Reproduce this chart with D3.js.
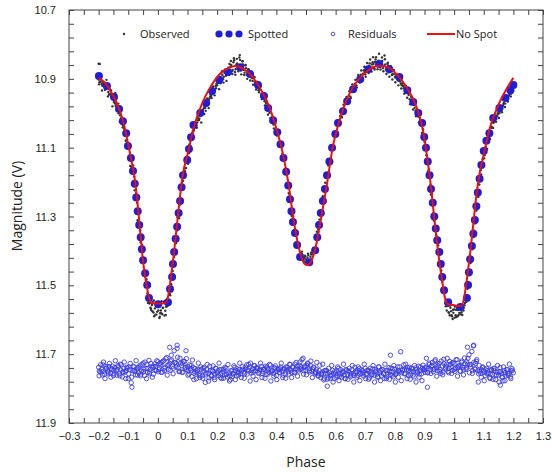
<!DOCTYPE html>
<html lang="en">
<head>
<meta charset="UTF-8">
<title>Light curve</title>
<script src="https://d3js.org/d3.v7.min.js"></script>
<style>
  body { margin: 0; background: #fff; }
  svg { display: block; font-family: "Open Sans", "Liberation Sans", sans-serif; }
  .tick text { font-size: 11px; fill: #222; }
  .tick line { stroke: #444; }
</style>
</head>
<body>
<div id="chart"></div>
<script>
// tick labels
const xTickLabels = [-0.3, -0.2, -0.1, 0, 0.1, 0.2, 0.3, 0.4, 0.5, 0.6, 0.7, 0.8, 0.9, 1, 1.1, 1.2, 1.3];
const yTickLabels = [10.7, 10.9, 11.1, 11.3, 11.5, 11.7, 11.9];

// legend entries
const legendNames = ["Observed", "Spotted", "Residuals", "No Spot"];

// No Spot model (phase, V)
const noSpot = [
  [-0.2,10.898],[-0.18,10.91],[-0.16,10.935],[-0.14,10.968],[-0.12,11.015],[-0.10,11.09],[-0.09,11.135],
  [-0.08,11.18],[-0.07,11.25],[-0.06,11.34],[-0.05,11.43],[-0.04,11.49],[-0.03,11.535],[-0.022,11.552],
  [0.0,11.553],[0.025,11.552],[0.035,11.53],[0.045,11.47],[0.055,11.40],[0.065,11.32],[0.075,11.24],
  [0.085,11.175],[0.10,11.12],[0.12,11.045],[0.15,10.97],[0.18,10.92],[0.21,10.885],[0.24,10.868],
  [0.26,10.863],[0.29,10.872],[0.32,10.895],[0.35,10.935],[0.38,10.99],[0.40,11.045],[0.42,11.11],
  [0.44,11.20],[0.46,11.32],[0.48,11.405],[0.495,11.437],[0.505,11.441],[0.52,11.425],[0.535,11.38],
  [0.55,11.31],[0.57,11.21],[0.59,11.10],[0.61,11.03],[0.64,10.955],[0.67,10.91],[0.70,10.882],
  [0.73,10.865],[0.75,10.862],[0.78,10.868],[0.81,10.89],[0.84,10.925],[0.87,10.975],[0.89,11.03],
  [0.90,11.075],[0.91,11.135],[0.92,11.20],[0.93,11.28],[0.94,11.36],[0.95,11.43],[0.96,11.49],
  [0.97,11.54],[0.978,11.555],[1.0,11.558],[1.025,11.56],[1.035,11.53],[1.045,11.47],[1.055,11.40],
  [1.065,11.32],[1.075,11.24],[1.085,11.18],[1.10,11.12],[1.12,11.045],[1.15,10.975],[1.18,10.925],[1.20,10.897]
];

// Spotted model points
const spotted = [
  [-0.199,10.892],[-0.172,10.921],[-0.148,10.953],[-0.131,10.988],[-0.118,11.023],[-0.107,11.058],
  [-0.101,11.095],[-0.091,11.130],[-0.084,11.168],[-0.078,11.205],[-0.073,11.245],[-0.068,11.285],
  [-0.063,11.325],[-0.058,11.36],[-0.054,11.395],[-0.050,11.427],[-0.043,11.465],[-0.036,11.499],
  [-0.030,11.537],[0.001,11.555],[0.034,11.549],[0.041,11.511],[0.048,11.476],[0.051,11.438],
  [0.055,11.403],[0.060,11.365],[0.065,11.33],[0.070,11.29],[0.075,11.255],[0.080,11.215],[0.085,11.180],
  [0.099,11.136],[0.105,11.104],[0.112,11.07],[0.120,11.034],[0.143,10.999],[0.163,10.970],[0.183,10.935],
  [0.207,10.903],[0.237,10.880],[0.278,10.866],[0.311,10.886],[0.338,10.918],[0.358,10.950],[0.372,10.985],
  [0.389,11.020],[0.403,11.055],[0.414,11.09],[0.424,11.13],[0.433,11.17],[0.440,11.21],[0.446,11.25],
  [0.451,11.285],[0.456,11.316],[0.463,11.348],[0.470,11.383],[0.480,11.418],[0.511,11.433],[0.531,11.398],
  [0.538,11.360],[0.544,11.325],[0.550,11.29],[0.557,11.255],[0.564,11.22],[0.571,11.18],[0.579,11.14],
  [0.588,11.10],[0.599,11.06],[0.608,11.028],[0.625,10.994],[0.639,10.965],[0.659,10.930],[0.683,10.901],
  [0.710,10.872],[0.747,10.857],[0.781,10.872],[0.815,10.895],[0.842,10.933],[0.862,10.967],[0.879,10.999],
  [0.892,11.028],[0.899,11.069],[0.905,11.10],[0.911,11.14],[0.917,11.18],[0.922,11.22],[0.928,11.26],
  [0.933,11.30],[0.938,11.335],[0.943,11.369],[0.950,11.403],[0.955,11.438],[0.960,11.476],[0.966,11.514],
  [0.980,11.549],[1.021,11.563],[1.043,11.537],[1.047,11.499],[1.050,11.462],[1.054,11.424],[1.060,11.386],
  [1.065,11.35],[1.070,11.31],[1.075,11.27],[1.080,11.23],[1.086,11.19],[1.092,11.15],[1.100,11.11],
  [1.109,11.08],[1.119,11.058],[1.132,11.014],[1.153,10.985],[1.173,10.956],[1.190,10.933],[1.200,10.918]
];

// Observed V magnitudes (two nights)
const observedA = [
  [-0.2,10.902],[-0.2,10.856],[-0.196,10.857],[-0.195,10.902],[-0.19,10.915],[-0.185,10.911],[-0.18,10.926],
  [-0.175,10.925],[-0.17,10.926],[-0.165,10.946],[-0.16,10.944],[-0.155,10.955],[-0.15,10.952],[-0.145,10.971],
  [-0.14,10.973],[-0.135,10.989],[-0.13,10.993],[-0.125,11.016],[-0.12,11.023],[-0.115,11.043],[-0.11,11.05],
  [-0.105,11.077],[-0.1,11.094],[-0.095,11.122],[-0.09,11.131],[-0.085,11.17],[-0.08,11.184],[-0.075,11.24],
  [-0.07,11.26],[-0.065,11.315],[-0.06,11.34],[-0.055,11.396],[-0.05,11.419],[-0.045,11.466],[-0.04,11.486],
  [-0.035,11.523],[-0.03,11.547],[-0.025,11.565],[-0.02,11.557],[-0.015,11.579],[-0.01,11.567],[-0.005,11.585],
  [0,11.563],[0.005,11.595],[0.01,11.573],[0.015,11.584],[0.02,11.548],[0.025,11.574],[0.03,11.556],
  [0.035,11.555],[0.04,11.525],[0.045,11.497],[0.05,11.458],[0.055,11.418],[0.06,11.37],[0.065,11.34],
  [0.07,11.296],[0.075,11.265],[0.08,11.219],[0.085,11.196],[0.09,11.166],[0.095,11.159],[0.1,11.136],
  [0.105,11.116],[0.11,11.095],[0.115,11.064],[0.12,11.05],[0.125,11.035],[0.13,11.035],[0.135,11.014],
  [0.14,11.016],[0.145,11.003],[0.15,11.003],[0.155,10.985],[0.16,10.985],[0.165,10.967],[0.17,10.972],
  [0.175,10.955],[0.18,10.95],[0.185,10.93],[0.19,10.937],[0.195,10.921],[0.2,10.919],[0.205,10.902],
  [0.21,10.91],[0.215,10.897],[0.22,10.901],[0.225,10.882],[0.23,10.891],[0.235,10.874],[0.24,10.888],
  [0.245,10.865],[0.25,10.878],[0.255,10.852],[0.26,10.88],[0.265,10.859],[0.27,10.871],[0.275,10.838],
  [0.28,10.876],[0.285,10.849],[0.29,10.874],[0.295,10.861],[0.3,10.888],[0.305,10.872],[0.31,10.892],
  [0.315,10.882],[0.32,10.906],[0.325,10.897],[0.33,10.915],[0.335,10.908],[0.34,10.933],[0.345,10.93],
  [0.35,10.944],[0.355,10.941],[0.36,10.965],[0.365,10.97],[0.37,10.988],[0.375,10.988],[0.38,11.014],
  [0.385,11.016],[0.39,11.033],[0.395,11.031],[0.4,11.053],[0.405,11.062],[0.41,11.084],[0.415,11.088],
  [0.42,11.118],[0.425,11.127],[0.43,11.161],[0.435,11.174],[0.44,11.215],[0.445,11.235],[0.45,11.284],
  [0.455,11.3],[0.46,11.339],[0.465,11.35],[0.47,11.381],[0.475,11.388],[0.48,11.412],[0.485,11.408],
  [0.49,11.426],[0.495,11.421],[0.5,11.433],[0.505,11.419],[0.51,11.437],[0.515,11.417],[0.52,11.423],
  [0.525,11.402],[0.53,11.404],[0.535,11.364],[0.54,11.345],[0.545,11.309],[0.55,11.296],[0.555,11.257],
  [0.56,11.244],[0.565,11.202],[0.57,11.185],[0.575,11.151],[0.58,11.141],[0.585,11.104],[0.59,11.094],
  [0.595,11.067],[0.6,11.064],[0.605,11.036],[0.61,11.033],[0.615,11.008],[0.62,11.009],[0.625,10.986],
  [0.63,10.989],[0.635,10.966],[0.64,10.969],[0.645,10.949],[0.65,10.952],[0.655,10.929],[0.66,10.934],
  [0.665,10.914],[0.67,10.919],[0.675,10.901],[0.68,10.909],[0.685,10.888],[0.69,10.897],[0.695,10.875],
  [0.7,10.887],[0.705,10.867],[0.71,10.878],[0.715,10.855],[0.72,10.87],[0.725,10.852],[0.73,10.869],
  [0.735,10.844],[0.74,10.863],[0.745,10.847],[0.75,10.865],[0.755,10.852],[0.76,10.869],[0.765,10.832],
  [0.77,10.873],[0.775,10.856],[0.78,10.881],[0.785,10.868],[0.79,10.889],[0.795,10.877],[0.8,10.895],
  [0.805,10.89],[0.81,10.904],[0.815,10.894],[0.82,10.914],[0.825,10.912],[0.83,10.927],[0.835,10.92],
  [0.84,10.939],[0.845,10.941],[0.85,10.959],[0.855,10.952],[0.86,10.973],[0.865,10.974],[0.87,10.992],
  [0.875,10.988],[0.88,11.01],[0.885,11.016],[0.89,11.037],[0.895,11.047],[0.9,11.083],[0.905,11.101],
  [0.91,11.144],[0.915,11.163],[0.92,11.208],[0.925,11.234],[0.93,11.29],[0.935,11.309],[0.94,11.355],
  [0.945,11.366],[0.95,11.412],[0.955,11.442],[0.96,11.49],[0.965,11.516],[0.97,11.553],[0.975,11.573],
  [0.98,11.559],[0.985,11.587],[0.99,11.575],[0.995,11.598],[1,11.57],[1.005,11.587],[1.01,11.566],
  [1.015,11.586],[1.02,11.566],[1.025,11.578],[1.03,11.559],[1.035,11.558],[1.04,11.534],[1.045,11.51],
  [1.05,11.464],[1.055,11.435],[1.06,11.391],[1.065,11.36],[1.07,11.314],[1.075,11.283],[1.08,11.236],
  [1.085,11.207],[1.09,11.165],[1.095,11.149],[1.1,11.116],[1.105,11.109],[1.11,11.086],[1.115,11.084],
  [1.12,11.062],[1.125,11.053],[1.13,11.024],[1.135,11.025],[1.14,11.008],[1.145,11.009],[1.15,10.993],
  [1.155,10.994],[1.16,10.979],[1.165,10.978],[1.17,10.962],[1.175,10.963],[1.18,10.949],[1.185,10.949],
  [1.19,10.935],[1.195,10.933],[1.2,10.922],
  [-0.1975,10.91],[-0.1925,10.908],[-0.1875,10.92],[-0.1825,10.918],[-0.1775,10.931],[-0.1725,10.918],
  [-0.1675,10.938],[-0.1625,10.93],[-0.1575,10.951],[-0.1525,10.958],[-0.1475,10.962],[-0.1425,10.978],
  [-0.1375,10.982],[-0.1325,11.0],[-0.1275,11.006],[-0.1225,11.028],[-0.1175,11.036],[-0.1125,11.048],
  [-0.0275,11.55],[-0.0225,11.572],[-0.0175,11.548],[-0.0125,11.59],[-0.0075,11.556],[-0.0025,11.577],
  [0.0025,11.56],[0.0075,11.581],[0.0125,11.546],[0.0175,11.565],[0.0225,11.588],[0.0275,11.562],[0.0325,11.538],
  [0.1025,11.128],[0.1075,11.098],[0.1125,11.078],[0.1175,11.06],[0.1225,11.045],[0.1275,11.028],[0.1325,11.027],
  [0.1375,11.02],[0.1425,11.008],[0.1475,10.996],[0.1525,10.99],[0.1575,10.98],[0.1625,10.976],[0.1675,10.962],
  [0.1725,10.96],[0.1775,10.946],[0.1825,10.944],[0.1875,10.929],[0.1925,10.93],[0.1975,10.915],
  [0.2025,10.912],[0.2075,10.895],[0.2125,10.903],[0.2175,10.888],[0.2225,10.894],[0.2275,10.877],[0.2325,10.884],
  [0.2375,10.868],[0.2425,10.881],[0.2475,10.86],[0.2525,10.874],[0.2575,10.846],[0.2625,10.872],[0.2675,10.855],
  [0.2725,10.864],[0.2775,10.845],[0.2825,10.866],[0.2875,10.858],[0.2925,10.882],[0.2975,10.869],[0.3025,10.878],
  [0.3075,10.885],[0.3125,10.879],[0.3175,10.898],[0.3225,10.893],[0.3275,10.91],
  [0.4825,11.42],[0.4875,11.41],[0.4925,11.43],[0.4975,11.416],[0.5025,11.428],[0.5075,11.412],[0.5125,11.426],[0.5175,11.41],
  [0.6825,10.898],[0.6875,10.892],[0.6925,10.885],[0.6975,10.88],[0.7025,10.874],[0.7075,10.871],[0.7125,10.862],
  [0.7175,10.865],[0.7225,10.858],[0.7275,10.857],[0.7325,10.851],[0.7375,10.858],[0.7425,10.852],[0.7475,10.86],
  [0.7525,10.858],[0.7575,10.848],[0.7625,10.862],[0.7675,10.858],[0.7725,10.866],[0.7775,10.862],[0.7825,10.878],
  [0.7875,10.872],[0.7925,10.885],[0.7975,10.887],[0.8025,10.896],[0.8075,10.9],[0.8125,10.905],[0.8175,10.908],
  [0.8225,10.918],[0.8275,10.921],
  [0.9775,11.56],[0.9825,11.58],[0.9875,11.565],[0.9925,11.59],[0.9975,11.58],[1.0025,11.562],[1.0075,11.592],
  [1.0125,11.572],[1.0175,11.58],[1.0225,11.57],[1.0275,11.586],[1.0325,11.565],
  [1.1025,11.122],[1.1075,11.1],[1.1125,11.078],[1.1175,11.07],[1.1225,11.06],[1.1275,11.04],[1.1325,11.028],
  [1.1375,11.015],[1.1425,11.016],[1.1475,11.0],[1.1525,11.0],[1.1575,10.985],[1.1625,10.986],[1.1675,10.97],
  [1.1725,10.972],[1.1775,10.955],[1.1825,10.958],[1.1875,10.942],[1.1925,10.943],[1.1975,10.928]
];

const observedB = [
  [-0.1985,10.916],[-0.1935,10.889],[-0.1885,10.934],[-0.1835,10.915],[-0.1785,10.932],[-0.1735,10.903],
  [-0.1685,10.951],[-0.1635,10.944],[-0.1585,10.933],[-0.1535,10.98],[-0.1485,10.967],[-0.1435,10.941],
  [-0.1385,10.993],[-0.1335,10.972],[-0.1285,11.024],[-0.1235,11.014],[-0.1185,11.041],[-0.1135,11.022],
  [-0.1085,11.08],[-0.1035,11.086],[-0.0985,11.091],[-0.0935,11.153],[-0.0885,11.157],[-0.0835,11.152],
  [-0.0785,11.224],[-0.0735,11.232],[-0.0685,11.311],[-0.0635,11.324],[-0.0585,11.375],[-0.0535,11.382],
  [-0.0485,11.461],[-0.0435,11.474],[-0.0385,11.482],[-0.0335,11.551],[-0.0285,11.553],[-0.0235,11.568],
  [-0.0185,11.575],[-0.0135,11.544],[-0.0085,11.585],[-0.0035,11.561],[0.0015,11.573],[0.0065,11.591],
  [0.0115,11.581],[0.0165,11.566],[0.0215,11.547],[0.0265,11.586],[0.0315,11.561],[0.0365,11.518],
  [0.0415,11.529],[0.0465,11.466],[0.0515,11.468],[0.0565,11.402],[0.0615,11.377],[0.0665,11.302],
  [0.0715,11.305],[0.0765,11.253],[0.0815,11.2],[0.0865,11.212],[0.0915,11.169],[0.0965,11.126],
  [0.1015,11.147],[0.1065,11.091],[0.1115,11.103],[0.1165,11.056],[0.1215,11.05],[0.1265,11.029],
  [0.1315,11.042],[0.1365,11.02],[0.1415,10.997],[0.1465,11.027],[0.1515,11.0],[0.1565,11.002],
  [0.1615,10.993],[0.1665,10.957],[0.1715,10.985],[0.1765,10.952],[0.1815,10.956],[0.1865,10.922],
  [0.1915,10.948],[0.1965,10.927],[0.2015,10.903],[0.2065,10.93],[0.2115,10.913],[0.2165,10.878],
  [0.2215,10.911],[0.2265,10.873],[0.2315,10.906],[0.2365,10.885],[0.2415,10.857],[0.2465,10.848],
  [0.2515,10.886],[0.2565,10.84],[0.2615,10.888],[0.2665,10.842],[0.2715,10.878],[0.2765,10.831],
  [0.2815,10.887],[0.2865,10.849],[0.2915,10.889],[0.2965,10.86],[0.3015,10.9],[0.3065,10.873],
  [0.3115,10.905],[0.3165,10.885],[0.3215,10.917],[0.3265,10.895],[0.3315,10.931],[0.3365,10.92],
  [0.3415,10.939],[0.3465,10.922],[0.3515,10.959],[0.3565,10.954],[0.3615,10.977],[0.3665,10.964],
  [0.3715,11.004],[0.3765,10.999],[0.3815,11.026],[0.3865,11.01],[0.3915,11.044],[0.3965,11.029],
  [0.4015,11.065],[0.4065,11.058],[0.4115,11.097],[0.4165,11.087],[0.4215,11.131],[0.4265,11.127],
  [0.4315,11.177],[0.4365,11.176],[0.4415,11.232],[0.4465,11.241],[0.4515,11.298],[0.4565,11.3],
  [0.4615,11.348],[0.4665,11.349],[0.4715,11.384],[0.4765,11.385],[0.4815,11.412],[0.4865,11.402],
  [0.4915,11.425],[0.4965,11.414],[0.5015,11.425],[0.5065,11.408],[0.5115,11.428],[0.5165,11.405],
  [0.5215,11.41],[0.5265,11.393],[0.5315,11.394],[0.5365,11.344],[0.5415,11.338],[0.5465,11.291],
  [0.5515,11.293],[0.5565,11.241],[0.5615,11.243],[0.5665,11.186],[0.5715,11.183],[0.5765,11.134],
  [0.5815,11.14],[0.5865,11.093],[0.5915,11.099],[0.5965,11.054],[0.6015,11.064],[0.6065,11.02],
  [0.6115,11.032],[0.6165,10.995],[0.6215,11.012],[0.6265,10.975],[0.6315,10.992],[0.6365,10.953],
  [0.6415,10.97],[0.6465,10.936],[0.6515,10.956],[0.6565,10.916],[0.6615,10.936],[0.6665,10.903],
  [0.6715,10.925],[0.6765,10.889],[0.6815,10.911],[0.6865,10.876],[0.6915,10.903],[0.6965,10.865],
  [0.7015,10.894],[0.7065,10.854],[0.7115,10.883],[0.7165,10.844],[0.7215,10.879],[0.7265,10.837],
  [0.7315,10.873],[0.7365,10.837],[0.7415,10.872],[0.7465,10.827],[0.7515,10.873],[0.7565,10.838],
  [0.7615,10.878],[0.7665,10.843],[0.7715,10.886],[0.7765,10.853],[0.7815,10.894],[0.7865,10.863],
  [0.7915,10.902],[0.7965,10.874],[0.8015,10.91],[0.8065,10.895],[0.8115,10.919],[0.8165,10.893],
  [0.8215,10.928],[0.8265,10.919],[0.8315,10.943],[0.8365,10.92],[0.8415,10.955],[0.8465,10.947],
  [0.8515,10.974],[0.8565,10.953],[0.8615,10.989],[0.8665,10.984],[0.8715,11.009],[0.8765,10.991],
  [0.8815,11.026],[0.8865,11.026],[0.8915,11.057],[0.8965,11.062],[0.9015,11.106],[0.9065,11.122],
  [0.9115,11.169],[0.9165,11.181],[0.9215,11.236],[0.9265,11.258],[0.9315,11.312],[0.9365,11.331],
  [0.9415,11.377],[0.9465,11.384],[0.9515,11.429],[0.9565,11.457],[0.9615,11.508],[0.9665,11.521],
  [0.9715,11.561],[0.9765,11.557],[0.9815,11.578],[0.9865,11.559],[0.9915,11.587],[0.9965,11.571],
  [1.0015,11.594],[1.0065,11.571],[1.0115,11.59],[1.0165,11.569],[1.0215,11.584],[1.0265,11.569],
  [1.0315,11.573],[1.0365,11.551],[1.0415,11.548],[1.0465,11.496],[1.0515,11.471],[1.0565,11.418],
  [1.0615,11.395],[1.0665,11.341],[1.0715,11.32],[1.0765,11.264],[1.0815,11.243],[1.0865,11.193],
  [1.0915,11.178],[1.0965,11.133],[1.1015,11.131],[1.1065,11.098],[1.1115,11.104],[1.1165,11.069],
  [1.1215,11.075],[1.1265,11.042],[1.1315,11.043],[1.1365,11.013],[1.1415,11.025],[1.1465,11.004],
  [1.1515,11.014],[1.1565,10.984],[1.1615,10.997],[1.1665,10.973],[1.1715,10.982],[1.1765,10.957],
  [1.1815,10.966],[1.1865,10.944],[1.1915,10.951],[1.1965,10.931]
];

// Residuals (offset for display)
const residualsA = [
  [-0.2,11.738],[-0.195,11.752],[-0.19,11.745],[-0.185,11.731],[-0.18,11.758],[-0.175,11.742],[-0.17,11.749],
  [-0.165,11.736],[-0.16,11.755],[-0.155,11.744],[-0.15,11.762],[-0.145,11.739],[-0.14,11.748],[-0.135,11.733],
  [-0.13,11.757],[-0.125,11.746],[-0.12,11.766],[-0.115,11.741],[-0.11,11.752],[-0.105,11.738],[-0.1,11.771],
  [-0.095,11.745],[-0.09,11.783],[-0.085,11.748],[-0.08,11.737],[-0.075,11.76],[-0.07,11.743],[-0.065,11.754],
  [-0.06,11.732],[-0.055,11.749],[-0.05,11.726],[-0.045,11.762],[-0.04,11.741],[-0.035,11.753],[-0.03,11.718],
  [-0.025,11.744],[-0.02,11.735],[-0.015,11.758],[-0.01,11.728],[-0.005,11.747],[0,11.722],[0.005,11.74],
  [0.01,11.731],[0.015,11.752],[0.02,11.719],[0.025,11.738],[0.03,11.71],[0.035,11.744],[0.04,11.727],
  [0.045,11.703],[0.05,11.735],[0.055,11.69],[0.06,11.724],[0.065,11.683],[0.07,11.741],[0.075,11.712],
  [0.08,11.733],[0.085,11.752],[0.09,11.721],[0.095,11.745],[0.1,11.736],[0.105,11.758],[0.11,11.742],
  [0.115,11.765],[0.12,11.739],[0.125,11.751],[0.13,11.771],[0.135,11.744],[0.14,11.758],[0.145,11.737],
  [0.15,11.763],[0.155,11.749],[0.16,11.782],[0.165,11.745],[0.17,11.756],[0.175,11.735],[0.18,11.762],
  [0.185,11.75],[0.19,11.768],[0.195,11.741],[0.2,11.755],[0.205,11.762],[0.21,11.745],[0.215,11.771],
  [0.22,11.752],[0.225,11.76],[0.23,11.741],[0.235,11.766],[0.24,11.754],[0.245,11.774],[0.25,11.749],
  [0.255,11.758],[0.26,11.738],[0.265,11.763],[0.27,11.751],[0.275,11.745],[0.28,11.757],[0.285,11.736],
  [0.29,11.752],[0.295,11.744],[0.3,11.731],[0.305,11.749],[0.31,11.738],[0.315,11.755],[0.32,11.742],
  [0.325,11.733],[0.33,11.748],[0.335,11.739],[0.34,11.756],[0.345,11.744],[0.35,11.736],[0.355,11.751],
  [0.36,11.743],[0.365,11.759],[0.37,11.74],[0.375,11.753],[0.38,11.732],[0.385,11.748],[0.39,11.756],
  [0.395,11.741],[0.4,11.762],[0.405,11.745],[0.41,11.753],[0.415,11.738],[0.42,11.749],[0.425,11.742],
  [0.43,11.758],[0.435,11.744],[0.44,11.751],[0.445,11.729],[0.45,11.746],[0.455,11.737],[0.46,11.752],
  [0.465,11.743],[0.47,11.735],[0.475,11.749],[0.48,11.723],[0.485,11.741],[0.49,11.712],[0.495,11.738],
  [0.5,11.747],[0.505,11.726],[0.51,11.742],[0.515,11.733],[0.52,11.75],[0.525,11.739],[0.53,11.757],
  [0.535,11.745],[0.54,11.762],[0.545,11.748],[0.55,11.768],[0.555,11.752],[0.56,11.775],[0.565,11.756],
  [0.57,11.748],[0.575,11.769],[0.58,11.754],[0.585,11.762],[0.59,11.747],[0.595,11.771],[0.6,11.755],
  [0.605,11.763],[0.61,11.741],[0.615,11.758],[0.62,11.767],[0.625,11.75],[0.63,11.761],[0.635,11.744],
  [0.64,11.759],[0.645,11.752],[0.65,11.766],[0.655,11.745],[0.66,11.757],[0.665,11.738],[0.67,11.753],
  [0.675,11.762],[0.68,11.742],[0.685,11.755],[0.69,11.748],[0.695,11.764],[0.7,11.741],[0.705,11.756],
  [0.71,11.747],[0.715,11.769],[0.72,11.752],[0.725,11.743],[0.73,11.761],[0.735,11.749],[0.74,11.758],
  [0.745,11.737],[0.75,11.754],[0.755,11.762],[0.76,11.745],[0.765,11.771],[0.77,11.748],[0.775,11.757],
  [0.78,11.739],[0.785,11.76],[0.79,11.751],[0.795,11.766],[0.8,11.744],[0.805,11.755],[0.81,11.737],
  [0.815,11.752],[0.82,11.693],[0.825,11.748],[0.83,11.731],[0.835,11.757],[0.84,11.745],[0.845,11.762],
  [0.85,11.738],[0.855,11.751],[0.86,11.743],[0.865,11.766],[0.87,11.74],[0.875,11.754],[0.88,11.735],
  [0.885,11.749],[0.89,11.757],[0.895,11.732],[0.9,11.746],[0.905,11.738],[0.91,11.754],[0.915,11.726],
  [0.92,11.744],[0.925,11.733],[0.93,11.751],[0.935,11.72],[0.94,11.739],[0.945,11.748],[0.95,11.727],
  [0.955,11.756],[0.96,11.734],[0.965,11.715],[0.97,11.743],[0.975,11.729],[0.98,11.75],[0.985,11.721],
  [0.99,11.738],[0.995,11.747],[1,11.728],[1.005,11.741],[1.01,11.716],[1.015,11.735],[1.02,11.749],
  [1.025,11.724],[1.03,11.738],[1.035,11.711],[1.04,11.744],[1.045,11.729],[1.05,11.702],[1.055,11.737],
  [1.06,11.692],[1.065,11.676],[1.07,11.742],[1.075,11.721],[1.08,11.748],[1.085,11.733],[1.09,11.756],
  [1.095,11.739],[1.1,11.747],[1.105,11.762],[1.11,11.741],[1.115,11.755],[1.12,11.768],[1.125,11.744],
  [1.13,11.759],[1.135,11.748],[1.14,11.774],[1.145,11.752],[1.15,11.761],[1.155,11.739],[1.16,11.757],
  [1.165,11.778],[1.17,11.748],[1.175,11.763],[1.18,11.745],[1.185,11.756],[1.19,11.766],[1.195,11.742],[1.2,11.754],
  [-0.1975,11.749],[-0.1875,11.76],[-0.1775,11.735],[-0.1675,11.752],[-0.1575,11.741],[-0.1475,11.757],
  [-0.1375,11.744],[-0.1275,11.729],[-0.1175,11.753],[-0.1075,11.748],[-0.0975,11.737],[-0.0875,11.796],
  [-0.0775,11.751],[-0.0675,11.739],[-0.0575,11.758],[-0.0475,11.744],[-0.0375,11.73],[-0.0275,11.752],
  [-0.0175,11.739],[-0.0075,11.736],[0.0025,11.745],[0.0125,11.724],[0.0225,11.748],[0.0325,11.733],
  [0.0425,11.72],[0.0525,11.741],[0.0625,11.728],[0.0725,11.749],[0.0825,11.726],[0.0925,11.738],
  [0.1025,11.748],[0.1125,11.733],[0.1225,11.756],[0.1325,11.748],[0.1425,11.762],[0.1525,11.741],
  [0.1625,11.754],[0.1725,11.769],[0.1825,11.747],[0.1925,11.758],[0.2025,11.748],[0.2125,11.758],
  [0.2225,11.744],[0.2325,11.759],[0.2425,11.764],[0.2525,11.756],[0.2625,11.748],[0.2725,11.761],
  [0.2825,11.749],[0.2925,11.757],[0.3025,11.745],[0.3125,11.726],[0.3225,11.752],[0.3325,11.74],
  [0.3425,11.748],[0.3525,11.757],[0.3625,11.735],[0.3725,11.745],[0.3825,11.752],[0.3925,11.739],
  [0.4025,11.75],[0.4125,11.743],[0.4225,11.761],[0.4325,11.737],[0.4425,11.744],[0.4525,11.753],
  [0.4625,11.729],[0.4725,11.744],[0.4825,11.736],[0.4925,11.748],[0.5025,11.733],[0.5125,11.752],
  [0.5225,11.744],[0.5325,11.751],[0.5425,11.756],[0.5525,11.759],[0.5625,11.748],[0.5725,11.757],
  [0.5825,11.77],[0.5925,11.756],[0.6025,11.748],[0.6125,11.765],[0.6225,11.753],[0.6325,11.771],
  [0.6425,11.748],[0.6525,11.757],[0.6625,11.762],[0.6725,11.746],[0.6825,11.758],[0.6925,11.752],
  [0.7025,11.76],[0.7125,11.75],[0.7225,11.758],[0.7325,11.744],[0.7425,11.765],[0.7525,11.748],
  [0.7625,11.756],[0.7725,11.765],[0.7825,11.751],[0.7925,11.742],[0.8025,11.759],[0.8125,11.748],
  [0.8225,11.754],[0.8325,11.745],[0.8425,11.739],[0.8525,11.758],[0.8625,11.75],[0.8725,11.746],
  [0.8825,11.758],[0.8925,11.742],[0.9025,11.753],[0.9125,11.741],[0.9225,11.737],[0.9325,11.744],
  [0.9425,11.731],[0.9525,11.745],[0.9625,11.752],[0.9725,11.735],[0.9825,11.742],[0.9925,11.726],
  [1.0025,11.75],[1.0125,11.739],[1.0225,11.734],[1.0325,11.745],[1.0425,11.722],[1.0525,11.731],
  [1.0625,11.748],[1.0725,11.727],[1.0825,11.757],[1.0925,11.745],[1.1025,11.753],[1.1125,11.748],
  [1.1225,11.757],[1.1325,11.742],[1.1425,11.76],[1.1525,11.751],[1.1625,11.766],[1.1725,11.754],
  [1.1825,11.762],[1.1925,11.749],
  [0.04,11.68],[0.065,11.674],[0.095,11.69],[0.785,11.703],[1.045,11.68],[1.066,11.674],
  [0.572,11.793],[0.91,11.796],[1.156,11.79]
];

const residualsB = [
  [-0.1985,11.763],[-0.1935,11.731],[-0.1885,11.751],[-0.1835,11.723],[-0.1785,11.771],[-0.1735,11.741],
  [-0.1685,11.757],[-0.1635,11.727],[-0.1585,11.767],[-0.1535,11.735],[-0.1485,11.747],[-0.1435,11.719],
  [-0.1385,11.761],[-0.1335,11.737],[-0.1285,11.763],[-0.1235,11.731],[-0.1185,11.751],[-0.1135,11.723],
  [-0.1085,11.771],[-0.1035,11.741],[-0.0985,11.757],[-0.0935,11.727],[-0.0885,11.767],[-0.0835,11.735],
  [-0.0785,11.747],[-0.0735,11.719],[-0.0685,11.761],[-0.0635,11.737],[-0.0585,11.763],[-0.0535,11.731],
  [-0.0485,11.751],[-0.0435,11.723],[-0.0385,11.771],[-0.0335,11.741],[-0.0285,11.757],[-0.0235,11.727],
  [-0.0185,11.767],[-0.0135,11.735],[-0.0085,11.747],[-0.0035,11.719],[0.0015,11.751],[0.0065,11.727],
  [0.0115,11.753],[0.0165,11.721],[0.0215,11.741],[0.0265,11.713],[0.0315,11.761],[0.0365,11.731],
  [0.0415,11.747],[0.0465,11.717],[0.0515,11.757],[0.0565,11.725],[0.0615,11.737],[0.0665,11.709],
  [0.0715,11.751],[0.0765,11.727],[0.0815,11.753],[0.0865,11.721],[0.0915,11.741],[0.0965,11.713],
  [0.1015,11.761],[0.1065,11.731],[0.1115,11.747],[0.1165,11.717],[0.1215,11.774],[0.1265,11.742],
  [0.1315,11.754],[0.1365,11.726],[0.1415,11.768],[0.1465,11.744],[0.1515,11.77],[0.1565,11.738],
  [0.1615,11.758],[0.1665,11.73],[0.1715,11.778],[0.1765,11.748],[0.1815,11.764],[0.1865,11.734],
  [0.1915,11.774],[0.1965,11.742],[0.2015,11.754],[0.2065,11.726],[0.2115,11.768],[0.2165,11.744],
  [0.2215,11.77],[0.2265,11.738],[0.2315,11.758],[0.2365,11.73],[0.2415,11.778],[0.2465,11.748],
  [0.2515,11.764],[0.2565,11.734],[0.2615,11.774],[0.2665,11.742],[0.2715,11.754],[0.2765,11.726],
  [0.2815,11.768],[0.2865,11.744],[0.2915,11.77],[0.2965,11.738],[0.3015,11.758],[0.3065,11.73],
  [0.3115,11.778],[0.3165,11.748],[0.3215,11.764],[0.3265,11.734],[0.3315,11.774],[0.3365,11.742],
  [0.3415,11.754],[0.3465,11.726],[0.3515,11.768],[0.3565,11.744],[0.3615,11.77],[0.3665,11.738],
  [0.3715,11.758],[0.3765,11.73],[0.3815,11.778],[0.3865,11.748],[0.3915,11.764],[0.3965,11.734],
  [0.4015,11.774],[0.4065,11.742],[0.4115,11.754],[0.4165,11.726],[0.4215,11.768],[0.4265,11.744],
  [0.4315,11.77],[0.4365,11.738],[0.4415,11.758],[0.4465,11.73],[0.4515,11.768],[0.4565,11.738],
  [0.4615,11.754],[0.4665,11.724],[0.4715,11.764],[0.4765,11.732],[0.4815,11.744],[0.4865,11.716],
  [0.4915,11.758],[0.4965,11.734],[0.5015,11.76],[0.5065,11.728],[0.5115,11.748],[0.5165,11.72],
  [0.5215,11.768],[0.5265,11.738],[0.5315,11.754],[0.5365,11.724],[0.5415,11.764],[0.5465,11.732],
  [0.5515,11.757],[0.5565,11.729],[0.5615,11.771],[0.5665,11.747],[0.5715,11.773],[0.5765,11.741],
  [0.5815,11.761],[0.5865,11.733],[0.5915,11.781],[0.5965,11.751],[0.6015,11.767],[0.6065,11.737],
  [0.6115,11.777],[0.6165,11.745],[0.6215,11.757],[0.6265,11.729],[0.6315,11.771],[0.6365,11.747],
  [0.6415,11.773],[0.6465,11.741],[0.6515,11.761],[0.6565,11.733],[0.6615,11.781],[0.6665,11.751],
  [0.6715,11.767],[0.6765,11.737],[0.6815,11.777],[0.6865,11.745],[0.6915,11.757],[0.6965,11.729],
  [0.7015,11.771],[0.7065,11.747],[0.7115,11.773],[0.7165,11.741],[0.7215,11.761],[0.7265,11.733],
  [0.7315,11.781],[0.7365,11.751],[0.7415,11.767],[0.7465,11.737],[0.7515,11.777],[0.7565,11.745],
  [0.7615,11.757],[0.7665,11.729],[0.7715,11.771],[0.7765,11.747],[0.7815,11.773],[0.7865,11.741],
  [0.7915,11.761],[0.7965,11.733],[0.8015,11.781],[0.8065,11.751],[0.8115,11.767],[0.8165,11.737],
  [0.8215,11.777],[0.8265,11.745],[0.8315,11.757],[0.8365,11.729],[0.8415,11.771],[0.8465,11.747],
  [0.8515,11.773],[0.8565,11.741],[0.8615,11.761],[0.8665,11.733],[0.8715,11.781],[0.8765,11.751],
  [0.8815,11.767],[0.8865,11.737],[0.8915,11.777],[0.8965,11.745],[0.9015,11.74],[0.9065,11.712],
  [0.9115,11.754],[0.9165,11.73],[0.9215,11.756],[0.9265,11.724],[0.9315,11.744],[0.9365,11.716],
  [0.9415,11.764],[0.9465,11.734],[0.9515,11.75],[0.9565,11.72],[0.9615,11.76],[0.9665,11.728],
  [0.9715,11.74],[0.9765,11.712],[0.9815,11.754],[0.9865,11.73],[0.9915,11.756],[0.9965,11.724],
  [1.0015,11.744],[1.0065,11.716],[1.0115,11.764],[1.0165,11.734],[1.0215,11.75],[1.0265,11.72],
  [1.0315,11.76],[1.0365,11.728],[1.0415,11.74],[1.0465,11.712],[1.0515,11.754],[1.0565,11.73],
  [1.0615,11.756],[1.0665,11.724],[1.0715,11.744],[1.0765,11.716],[1.0815,11.781],[1.0865,11.751],
  [1.0915,11.767],[1.0965,11.737],[1.1015,11.777],[1.1065,11.745],[1.1115,11.757],[1.1165,11.729],
  [1.1215,11.771],[1.1265,11.747],[1.1315,11.773],[1.1365,11.741],[1.1415,11.761],[1.1465,11.733],
  [1.1515,11.781],[1.1565,11.751],[1.1615,11.767],[1.1665,11.737],[1.1715,11.777],[1.1765,11.745],
  [1.1815,11.757],[1.1865,11.729],[1.1915,11.771],[1.1965,11.747]
];

const W = 552, H = 472;
const plot = { left: 69, right: 543, top: 10, bottom: 423 };

const svg = d3.select("#chart").append("svg")
  .attr("width", W).attr("height", H);

const x = d3.scaleLinear().domain([-0.3, 1.3]).range([plot.left, plot.right]);
const y = d3.scaleLinear().domain([10.7, 11.9]).range([plot.top, plot.bottom]);

const xMinor = d3.range(-0.3, 1.3001, 0.05).map(v => +v.toFixed(2));
const yMinor = d3.range(10.7, 11.9001, 0.04).map(v => +v.toFixed(2));
const isMajorX = v => xTickLabels.some(t => Math.abs(t - v) < 1e-6);
const isMajorY = v => yTickLabels.some(t => Math.abs(t - v) < 1e-6);

// axes, ticks pointing inward on all four sides
svg.append("g")
  .attr("transform", `translate(0,${plot.bottom})`)
  .call(d3.axisBottom(x).tickValues(xMinor).tickSizeInner(-5).tickSizeOuter(0).tickPadding(9)
    .tickFormat(v => isMajorX(v) ? d3.format("")(v) : ""))
  .call(g => g.select(".domain").remove());

svg.append("g")
  .attr("transform", `translate(0,${plot.top})`)
  .call(d3.axisTop(x).tickValues(xMinor).tickSizeInner(-5).tickSizeOuter(0).tickFormat(""))
  .call(g => g.select(".domain").remove());

svg.append("g")
  .attr("transform", `translate(${plot.left},0)`)
  .call(d3.axisLeft(y).tickValues(yMinor).tickSizeInner(-5).tickSizeOuter(0).tickPadding(13)
    .tickFormat(v => isMajorY(v) ? d3.format(".1f")(v) : ""))
  .call(g => g.select(".domain").remove());

svg.append("g")
  .attr("transform", `translate(${plot.right},0)`)
  .call(d3.axisRight(y).tickValues(yMinor).tickSizeInner(-5).tickSizeOuter(0).tickFormat(""))
  .call(g => g.select(".domain").remove());

svg.append("rect")
  .attr("x", plot.left).attr("y", plot.top)
  .attr("width", plot.right - plot.left).attr("height", plot.bottom - plot.top)
  .attr("fill", "none").attr("stroke", "#444").attr("stroke-width", 1);

// axis titles
svg.append("text")
  .attr("x", (plot.left + plot.right) / 2).attr("y", 467)
  .attr("text-anchor", "middle").attr("font-size", 14).attr("fill", "#222")
  .text("Phase");

svg.append("text")
  .attr("transform", "translate(22,206) rotate(-90)")
  .attr("text-anchor", "middle").attr("font-size", 14).attr("fill", "#222")
  .text("Magnitude (V)");

const blue = "#1e1ed8";
const resBlue = "#3c3ce0";
const red = "#e81010";

// residuals
svg.append("g").selectAll("circle").data(residualsA.concat(residualsB)).join("circle")
  .attr("cx", d => x(d[0])).attr("cy", d => y(d[1])).attr("r", 2.2)
  .attr("fill", "none").attr("stroke", resBlue).attr("stroke-width", 0.9);

// observed
svg.append("g").selectAll("circle").data(observedA.concat(observedB)).join("circle")
  .attr("cx", d => x(d[0])).attr("cy", d => y(d[1])).attr("r", 1.2)
  .attr("fill", "#333");

// spotted model
svg.append("g").selectAll("circle").data(spotted).join("circle")
  .attr("cx", d => x(d[0])).attr("cy", d => y(d[1])).attr("r", 4)
  .attr("fill", blue);

// no spot model
const line = d3.line().x(d => x(d[0])).y(d => y(d[1])).curve(d3.curveMonotoneX);
svg.append("path").datum(noSpot)
  .attr("d", line).attr("fill", "none").attr("stroke", red).attr("stroke-width", 2);

// legend
const lg = svg.append("g").attr("font-size", 11).attr("fill", "#222");
const ly = 34;
lg.append("circle").attr("cx", 124).attr("cy", ly).attr("r", 1.2).attr("fill", "#333");
lg.append("text").attr("x", 140).attr("y", ly + 4).text(legendNames[0]);
[219, 229, 239].forEach(cx => lg.append("circle").attr("cx", cx).attr("cy", ly).attr("r", 3.6).attr("fill", blue));
lg.append("text").attr("x", 248).attr("y", ly + 4).text(legendNames[1]);
lg.append("circle").attr("cx", 333).attr("cy", ly).attr("r", 1.8).attr("fill", "none").attr("stroke", resBlue).attr("stroke-width", 0.9);
lg.append("text").attr("x", 348).attr("y", ly + 4).text(legendNames[2]);
lg.append("line").attr("x1", 427).attr("x2", 455).attr("y1", ly).attr("y2", ly).attr("stroke", red).attr("stroke-width", 2);
lg.append("text").attr("x", 456).attr("y", ly + 4).text(legendNames[3]);
</script>
</body>
</html>
